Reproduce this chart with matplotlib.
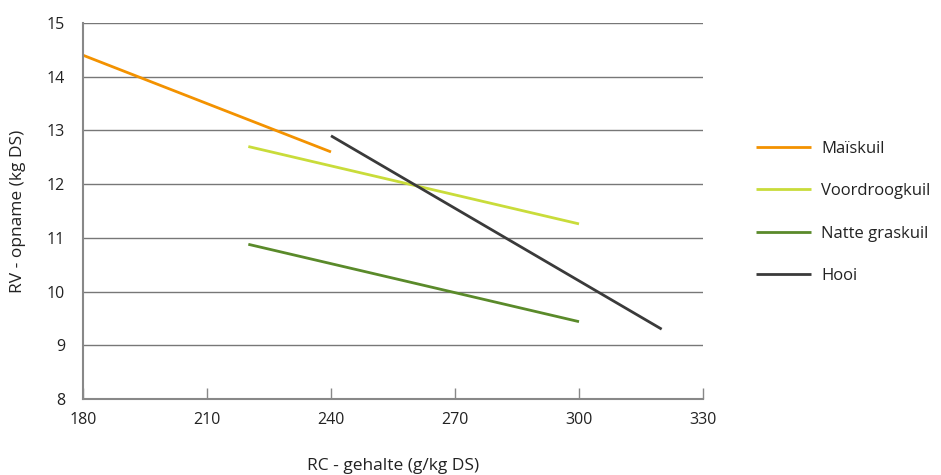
import matplotlib
matplotlib.use("Agg")
import matplotlib.pyplot as plt

plt.rcParams['font.family'] = ['Open Sans', 'DejaVu Sans']

series_names = ["Maïskuil", "Voordroogkuil", "Natte graskuil", "Hooi"]
mais_x = [180, 240]
mais_y = [14.4, 12.6]
voor_x = [220, 300]
voor_y = [12.7, 11.26]
natte_x = [220, 300]
natte_y = [10.88, 9.44]
hooi_x = [240, 320]
hooi_y = [12.9, 9.3]
colors = ["#f39200", "#c9dc3a", "#5a8a2a", "#3a3a3a"]
x_ticks = [180, 210, 240, 270, 300, 330]
y_ticks = [8, 9, 10, 11, 12, 13, 14, 15]

fig = plt.figure(figsize=(9.41, 4.75), dpi=100)
ax = fig.add_axes([83/941, 1-399/475, 620/941, 376/475])

for xs, ys, c, n in zip([mais_x, voor_x, natte_x, hooi_x],
                        [mais_y, voor_y, natte_y, hooi_y], colors, series_names):
    ax.plot(xs, ys, color=c, lw=2.0, label=n, solid_capstyle='butt')

ax.set_xlim(180, 330)
ax.set_ylim(8, 15)
ax.set_xticks(x_ticks)
ax.set_yticks(y_ticks)
ax.set_xticklabels([str(v) for v in x_ticks], fontsize=11.5, color="#222222")
ax.set_yticklabels([str(v) for v in y_ticks], fontsize=11.5, color="#222222")
ax.yaxis.grid(True, color="#777777", lw=1.0)
ax.set_axisbelow(True)
for s in ["top", "right"]:
    ax.spines[s].set_visible(False)
for s in ["left", "bottom"]:
    ax.spines[s].set_color("#888888")
    ax.spines[s].set_linewidth(1.5)
ax.tick_params(axis='x', direction='in', length=8, width=1.0, color="#888888", pad=9)
ax.tick_params(axis='y', length=0, pad=13)

ax.set_xlabel("RC - gehalte (g/kg DS)", fontsize=12.5, color="#222222", labelpad=22)
ax.set_ylabel("RV - opname (kg DS)", fontsize=12.5, color="#222222")
ax.yaxis.set_label_coords(-57/620, 0.5)

leg = fig.legend(loc='upper left', bbox_to_anchor=(741/941, 1-126/475), frameon=False,
                 fontsize=12, handlelength=3.3, handletextpad=0.6, labelspacing=1.58,
                 labelcolor="#222222")

fig.savefig("out.png", dpi=100)
